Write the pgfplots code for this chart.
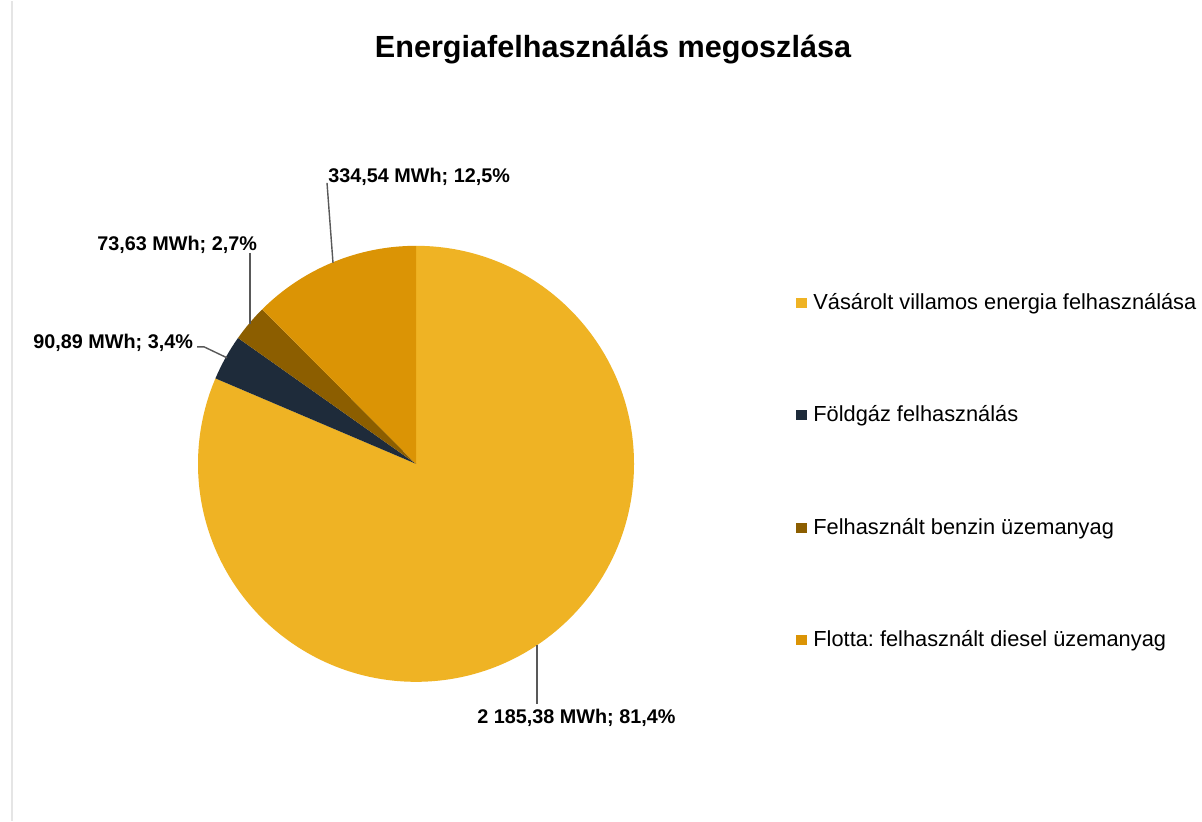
\documentclass[border=0pt]{standalone}
\usepackage{pgfplots}
\usepackage{pgfplotstable}
\pgfplotsset{compat=1.18}
\usepackage{fontspec}
\setmainfont{Liberation Sans}
\frenchspacing
\definecolor{cElec}{HTML}{EFB324}
\definecolor{cGas}{HTML}{1E2B3A}
\definecolor{cBenz}{HTML}{8C5E00}
\definecolor{cDies}{HTML}{DB9405}
\definecolor{cLine}{HTML}{595959}

\pgfplotstableread[col sep=comma]{
name,value
elec,2185.38
gas,90.89
benz,73.63
dies,334.54
}\piedata
\pgfplotstablegetelem{0}{value}\of\piedata \let\va\pgfplotsretval
\pgfplotstablegetelem{1}{value}\of\piedata \let\vb\pgfplotsretval
\pgfplotstablegetelem{2}{value}\of\piedata \let\vc\pgfplotsretval
\pgfplotstablegetelem{3}{value}\of\piedata \let\vd\pgfplotsretval
\pgfmathsetmacro\tot{\va+\vb+\vc+\vd}
\pgfmathsetmacro\aA{90-\va/\tot*360}
\pgfmathsetmacro\aB{\aA-\vb/\tot*360}
\pgfmathsetmacro\aC{\aB-\vc/\tot*360}

\begin{document}
\frenchspacing
\begin{tikzpicture}
\begin{axis}[hide axis, scale only axis, width=601pt, height=410pt,
  xmin=0, xmax=1202, ymin=0, ymax=820, y dir=reverse, clip=false]
\addplot[draw=none] coordinates {(0,0) (1202,820)};
\path[fill=white] (axis cs:0,0) rectangle (axis cs:1202,820);
\draw[gray!20, line width=0.8pt] (axis cs:12,0) -- (axis cs:12,820);
% title
\node[anchor=base, inner sep=0pt, font=\fontsize{15.3}{18}\selectfont\bfseries] at (axis cs:613,57) {Energiafelhasználás megoszlása};
% pie slices
\fill[cElec] (axis cs:416,463) -- ++(90:109pt) arc[start angle=90, end angle=\aA, radius=109pt] -- cycle;
\fill[cGas]  (axis cs:416,463) -- ++(\aA:109pt) arc[start angle=\aA, end angle=\aB, radius=109pt] -- cycle;
\fill[cBenz] (axis cs:416,463) -- ++(\aB:109pt) arc[start angle=\aB, end angle=\aC, radius=109pt] -- cycle;
\fill[cDies] (axis cs:416,463) -- ++(\aC:109pt) arc[start angle=\aC, end angle=-270, radius=109pt] -- cycle;
% leader lines
\draw[cLine, line width=0.7pt] (axis cs:327,182) -- (axis cs:333,262);
\draw[cLine, line width=0.7pt] (axis cs:250,252) -- (axis cs:250,323);
\draw[cLine, line width=0.7pt] (axis cs:197,346) -- (axis cs:204,346) -- (axis cs:227,357);
\draw[cLine, line width=0.7pt] (axis cs:537,644) -- (axis cs:537,703);
% data labels
\node[anchor=base west, inner sep=0pt, font=\fontsize{9.9}{12}\selectfont\bfseries] at (axis cs:328,182) {334,54 MWh; 12,5\%};
\node[anchor=base west, inner sep=0pt, font=\fontsize{9.9}{12}\selectfont\bfseries] at (axis cs:97,250) {73,63 MWh; 2,7\%};
\node[anchor=base west, inner sep=0pt, font=\fontsize{9.9}{12}\selectfont\bfseries] at (axis cs:33,348) {90,89 MWh; 3,4\%};
\node[anchor=base west, inner sep=0pt, font=\fontsize{9.9}{12}\selectfont\bfseries] at (axis cs:477,723) {2 185,38 MWh; 81,4\%};
% legend
\fill[cElec] (axis cs:796,297) rectangle (axis cs:807,307);
\fill[cGas]  (axis cs:796,409) rectangle (axis cs:807,419);
\fill[cBenz] (axis cs:796,522) rectangle (axis cs:807,532);
\fill[cDies] (axis cs:796,634) rectangle (axis cs:807,644);
\node[anchor=base west, inner sep=0pt, font=\fontsize{10.9}{13}\selectfont] at (axis cs:813,309) {Vásárolt villamos energia felhasználása};
\node[anchor=base west, inner sep=0pt, font=\fontsize{10.9}{13}\selectfont] at (axis cs:813,421) {Földgáz felhasználás};
\node[anchor=base west, inner sep=0pt, font=\fontsize{10.9}{13}\selectfont] at (axis cs:813,534) {Felhasznált benzin üzemanyag};
\node[anchor=base west, inner sep=0pt, font=\fontsize{10.9}{13}\selectfont] at (axis cs:813,646) {Flotta: felhasznált diesel üzemanyag};
\end{axis}
\end{tikzpicture}
\end{document}
